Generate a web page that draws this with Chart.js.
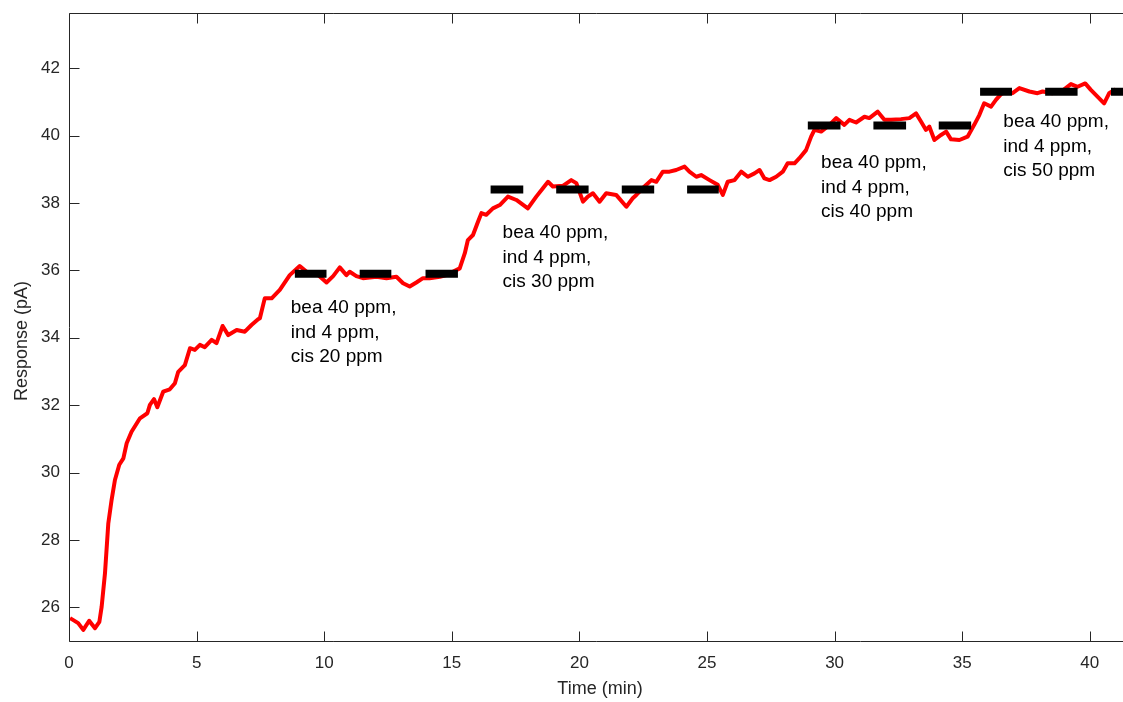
<!DOCTYPE html>
<html>
<head>
<meta charset="utf-8">
<script src="https://cdn.jsdelivr.net/npm/chart.js@4.4.1/dist/chart.umd.min.js"></script>
<style>
  html, body { margin: 0; padding: 0; background: #fff; }
  #wrap { width: 1123px; height: 702px; }
</style>
</head>
<body>
<div id="wrap"><canvas id="chart" width="1123" height="702"></canvas></div>
<script>
// sensor trace (time in min, response in pA)
const timeMin = [
  0.04, 0.17, 0.36, 0.56, 0.79, 1.02, 1.19, 1.28, 1.41, 1.54, 1.67, 1.80, 1.97, 2.13, 2.26, 2.45,
  2.78, 3.07, 3.17, 3.33, 3.46, 3.69, 3.95, 4.15, 4.28, 4.54, 4.74, 4.93, 5.13, 5.32, 5.59, 5.78,
  6.02, 6.24, 6.57, 6.89, 7.15, 7.41, 7.48, 7.67, 7.94, 8.26, 8.65, 9.04, 9.37, 9.76, 10.09, 10.35,
  10.61, 10.87, 11.00, 11.26, 11.52, 12.05, 12.44, 12.83, 13.09, 13.35, 13.61, 13.87, 14.13, 14.53,
  14.79, 15.31, 15.51, 15.63, 15.83, 16.03, 16.16, 16.35, 16.61, 16.88, 17.20, 17.53, 17.98, 18.31,
  18.57, 18.77, 18.96, 19.35, 19.68, 19.88, 20.14, 20.33, 20.53, 20.79, 21.05, 21.44, 21.84, 22.09,
  22.23, 22.55, 22.82, 23.01, 23.27, 23.53, 23.79, 24.12, 24.31, 24.58, 24.77, 25.10, 25.42, 25.62,
  25.81, 26.08, 26.34, 26.60, 26.86, 27.06, 27.25, 27.45, 27.71, 27.97, 28.16, 28.43, 28.62, 28.88,
  29.08, 29.21, 29.47, 29.80, 30.06, 30.38, 30.58, 30.84, 31.17, 31.36, 31.69, 31.95, 32.21, 32.60,
  32.93, 33.19, 33.39, 33.58, 33.71, 33.91, 34.17, 34.37, 34.56, 34.89, 35.21, 35.47, 35.67, 35.86,
  36.13, 36.32, 36.52, 36.71, 36.97, 37.24, 37.63, 37.95, 38.15, 38.54, 38.93, 39.26, 39.52, 39.82,
  40.04, 40.30, 40.56, 40.76, 40.96, 41.28
];
const responsePA = [
  25.68, 25.62, 25.53, 25.33, 25.60, 25.38, 25.57, 26.02, 27.01, 28.49, 29.19, 29.78, 30.23, 30.42, 30.87, 31.21,
  31.61, 31.76, 32.01, 32.18, 31.94, 32.40, 32.47, 32.65, 32.99, 33.19, 33.69, 33.64, 33.79, 33.72, 33.94, 33.84,
  34.35, 34.08, 34.23, 34.18, 34.38, 34.55, 34.58, 35.17, 35.17, 35.42, 35.86, 36.13, 35.92, 35.86, 35.64, 35.83,
  36.09, 35.86, 35.96, 35.83, 35.77, 35.81, 35.77, 35.81, 35.62, 35.52, 35.64, 35.77, 35.77, 35.81,
  35.86, 36.06, 36.51, 36.90, 37.05, 37.45, 37.70, 37.65, 37.84, 37.94, 38.19, 38.09, 37.84, 38.19,
  38.44, 38.63, 38.49, 38.51, 38.68, 38.59, 38.04, 38.19, 38.29, 38.04, 38.29, 38.24, 37.89, 38.14,
  38.24, 38.49, 38.68, 38.63, 38.93, 38.93, 38.98, 39.08, 38.93, 38.78, 38.83, 38.68, 38.54, 38.24,
  38.63, 38.68, 38.93, 38.78, 38.88, 38.98, 38.73, 38.68, 38.78, 38.93, 39.18, 39.18, 39.33, 39.57,
  39.97, 40.17, 40.12, 40.32, 40.52, 40.32, 40.47, 40.39, 40.56, 40.52, 40.71, 40.47, 40.47, 40.49,
  40.52, 40.66, 40.41, 40.17, 40.27, 39.87, 40.02, 40.12, 39.89, 39.87, 39.97, 40.32, 40.61, 40.96,
  40.86, 41.06, 41.23, 41.31, 41.26, 41.41, 41.31, 41.26, 41.31, 41.26, 41.34, 41.53, 41.45, 41.55,
  41.36, 41.16, 40.96, 41.26, 41.36, 41.26
];

// black level markers
const barStart = [8.85, 11.39, 13.97, 16.52, 19.09, 21.66, 24.22, 28.95, 31.52, 34.08, 35.70, 38.25, 40.83];
const barEnd   = [10.09, 12.63, 15.24, 17.80, 20.36, 22.93, 25.46, 30.23, 32.80, 35.35, 36.95, 39.52, 42.10];
const barLevel = [35.9, 35.9, 35.9, 38.4, 38.4, 38.4, 38.4, 40.3, 40.3, 40.3, 41.3, 41.3, 41.3];

// concentration labels
const beaPpm = [40, 40, 40, 40];
const indPpm = [4, 4, 4, 4];
const cisPpm = [20, 30, 40, 50];
const labelX = [8.69, 16.99, 29.47, 36.61];
const labelY = [34.89, 37.11, 39.18, 40.40];

const xTicks = [0, 5, 10, 15, 20, 25, 30, 35, 40];
const yTicks = [26, 28, 30, 32, 34, 36, 38, 40, 42];

const AXIS_COLOR = "#262626";
const FONT = '"Liberation Sans", Arial, Helvetica, sans-serif';

const trace = timeMin.map((t, i) => ({ x: t, y: responsePA[i] }));
const bars = [];
barStart.forEach((s, i) => {
  bars.push({ x: s, y: barLevel[i] });
  bars.push({ x: barEnd[i], y: barLevel[i] });
  bars.push({ x: barEnd[i], y: null });
});

// MATLAB-ish box with inward ticks, axis titles and text labels
const matlabAxes = {
  id: "matlabAxes",
  afterDraw(chart) {
    const { ctx, chartArea: a, scales } = chart;
    const xs = scales.x, ys = scales.y;
    ctx.save();
    ctx.strokeStyle = AXIS_COLOR;
    ctx.lineWidth = 1;
    ctx.beginPath();
    const L = Math.round(a.left) + 0.5, T = Math.round(a.top) + 0.5, B = Math.round(a.bottom) + 0.5;
    ctx.moveTo(a.right + 1, T); ctx.lineTo(L, T); ctx.lineTo(L, B); ctx.lineTo(a.right + 1, B);
    const tl = 10;
    xTicks.forEach(v => {
      const px = Math.round(xs.getPixelForValue(v)) + 0.5;
      ctx.moveTo(px, B); ctx.lineTo(px, B - tl);
      ctx.moveTo(px, T); ctx.lineTo(px, T + tl);
    });
    yTicks.forEach(v => {
      const py = Math.round(ys.getPixelForValue(v)) + 0.5;
      ctx.moveTo(L, py); ctx.lineTo(L + tl, py);
    });
    ctx.stroke();

    ctx.fillStyle = AXIS_COLOR;
    ctx.font = "18px " + FONT;
    ctx.textAlign = "center";
    ctx.textBaseline = "middle";
    ctx.fillText("Time (min)", 600, 689);
    ctx.translate(22, 341);
    ctx.rotate(-Math.PI / 2);
    ctx.fillText("Response (pA)", 0, 0);
    ctx.restore();

    ctx.save();
    ctx.fillStyle = "#000";
    ctx.font = "19px " + FONT;
    ctx.textAlign = "left";
    ctx.textBaseline = "middle";
    labelX.forEach((lx, i) => {
      const px = xs.getPixelForValue(lx);
      const py = ys.getPixelForValue(labelY[i]);
      const lines = [
        `bea ${beaPpm[i]} ppm,`,
        `ind ${indPpm[i]} ppm,`,
        `cis ${cisPpm[i]} ppm`
      ];
      lines.forEach((s, k) => ctx.fillText(s, px, py + k * 24.5));
    });
    ctx.restore();
  }
};

new Chart(document.getElementById("chart"), {
  type: "line",
  data: {
    datasets: [
      {
        label: "levels",
        data: bars,
        borderColor: "#000",
        borderWidth: 8,
        borderCapStyle: "butt",
        pointRadius: 0,
        spanGaps: false,
        order: 0
      },
      {
        label: "response",
        data: trace,
        borderColor: "#ff0000",
        borderWidth: 4,
        borderJoinStyle: "round",
        pointRadius: 0,
        tension: 0,
        order: 1
      }
    ]
  },
  options: {
    responsive: false,
    animation: false,
    devicePixelRatio: 1,
    layout: { padding: { top: 13, right: 0, bottom: 0, left: 0 } },
    plugins: { legend: { display: false }, tooltip: { enabled: false } },
    scales: {
      x: {
        type: "linear",
        min: 0,
        max: 41.3,
        afterFit: (s) => { s.height = 61; s.paddingLeft = 0; s.paddingRight = 0; },
        afterBuildTicks: (s) => { s.ticks = xTicks.map(v => ({ value: v })); },
        grid: { display: false, drawTicks: false },
        border: { display: false },
        ticks: { color: AXIS_COLOR, font: { family: FONT, size: 17 }, padding: 12, maxRotation: 0 }
      },
      y: {
        type: "linear",
        min: 25,
        max: 43.64,
        afterFit: (s) => { s.width = 69; s.paddingTop = 0; s.paddingBottom = 0; },
        afterBuildTicks: (s) => { s.ticks = yTicks.map(v => ({ value: v })); },
        grid: { display: false, drawTicks: false },
        border: { display: false },
        ticks: { color: AXIS_COLOR, font: { family: FONT, size: 17 }, padding: 9 }
      }
    }
  },
  plugins: [matlabAxes]
});
</script>
</body>
</html>
